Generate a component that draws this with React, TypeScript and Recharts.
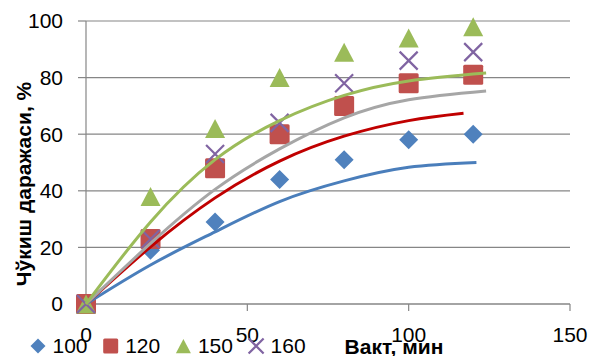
import React from 'react';
import {
  ComposedChart,
  Scatter,
  Line,
  XAxis,
  YAxis,
  CartesianGrid,
} from 'recharts';

// measured points (time, min → degree, %)
const times = [0, 20, 40, 60, 80, 100, 120];
const deg100 = [0, 19, 29, 44, 51, 58, 60];
const deg120 = [0, 23, 48, 60, 70, 78, 81];
const deg150 = [0, 38, 62, 80, 89, 94, 98];
const deg160 = [0, 23, 53, 64, 78, 86, 89];

// trend curves
const trendBlueX = [0, 20, 40, 60, 80, 100, 121];
const trendBlueY = [0, 13.8, 25.5, 36.2, 43.5, 48.3, 50];
const trendRedX = [0, 20, 40, 60, 80, 100, 117];
const trendRedY = [0, 20.2, 37.5, 50.5, 59.3, 64.8, 67.4];
const trendGrayX = [0, 20, 40, 60, 80, 100, 124];
const trendGrayY = [0, 21.4, 40.5, 54.8, 65.8, 72.2, 75.3];
const trendGreenX = [0, 20, 40, 60, 80, 100, 124];
const trendGreenY = [0, 29, 51, 64.8, 73.7, 78.8, 81.6];

const legendLabels = ['100', '120', '150', '160'];
const xTicks = [0, 50, 100, 150];
const yTicks = [0, 20, 40, 60, 80, 100];

const FONT = '"Liberation Sans", Arial, sans-serif';
const AXIS = '#868686';

const BLUE = '#4F81BD';
const RED = '#C0504D';
const GREEN = '#9BBB59';
const PURPLE = '#8064A2';

const zip = (xs: number[], ys: number[]) => xs.map((x, i) => ({ x, y: ys[i] }));

type MarkerProps = { cx?: number; cy?: number; s?: number };

function Diamond({ cx = 0, cy = 0, s = 19 }: MarkerProps) {
  const h = s / 2;
  return <path d={`M${cx},${cy - h}L${cx + h},${cy}L${cx},${cy + h}L${cx - h},${cy}Z`} fill={BLUE} />;
}

function Square({ cx = 0, cy = 0, s = 20 }: MarkerProps) {
  return <rect x={cx - s / 2} y={cy - s / 2} width={s} height={s} rx={1.5} fill={RED} />;
}

function Triangle({ cx = 0, cy = 0, s = 20 }: MarkerProps) {
  const h = s * 0.95;
  return (
    <path
      d={`M${cx},${cy - h / 2}L${cx + s / 2},${cy + h / 2}L${cx - s / 2},${cy + h / 2}Z`}
      fill={GREEN}
    />
  );
}

function Cross({ cx = 0, cy = 0, s = 18 }: MarkerProps) {
  const h = s / 2;
  return (
    <path
      d={`M${cx - h},${cy - h}L${cx + h},${cy + h}M${cx + h},${cy - h}L${cx - h},${cy + h}`}
      stroke={PURPLE}
      strokeWidth={2.2}
      fill="none"
    />
  );
}

const markers = [Diamond, Square, Triangle, Cross];

function Legend() {
  return (
    <svg
      width={590}
      height={356}
      style={{ position: 'absolute', left: 0, top: 0, pointerEvents: 'none' }}
    >
      {legendLabels.map((label, i) => {
        const x0 = 30.5 + i * 72.7;
        const M = markers[i];
        return (
          <g key={label}>
            <M cx={x0 + 7.5} cy={346} s={15} />
            <text x={x0 + 22} y={353} fontSize={21} fontFamily={FONT} fill="#000">
              {label}
            </text>
          </g>
        );
      })}
    </svg>
  );
}

export default function App() {
  return (
    <div style={{ position: 'absolute', left: 0, top: 0, width: 590, height: 356 }}>
      <ComposedChart width={590} height={356} margin={{ top: 21, right: 20, bottom: 0, left: 0 }}>
        <CartesianGrid vertical={false} stroke={AXIS} strokeWidth={1.2} />
        <XAxis
          dataKey="x"
          type="number"
          domain={[0, 150]}
          ticks={xTicks}
          height={52}
          stroke={AXIS}
          strokeWidth={1.2}
          tickSize={7}
          tickMargin={16}
          tick={{ fill: '#000', fontSize: 21, fontFamily: FONT }}
          label={{
            content: () => (
              <text
                x={394}
                y={354}
                textAnchor="middle"
                fontSize={21}
                fontWeight="bold"
                fontFamily={FONT}
                fill="#000"
              >
                Вакт, мин
              </text>
            ),
          }}
        />
        <YAxis
          type="number"
          domain={[0, 100]}
          ticks={yTicks}
          width={86}
          stroke={AXIS}
          strokeWidth={1.2}
          tickSize={8}
          tickMargin={15}
          tick={{ fill: '#000', fontSize: 21, fontFamily: FONT }}
          label={{
            content: () => (
              <text
                transform="translate(23,184) rotate(-90)"
                textAnchor="middle"
                dominantBaseline="central"
                fontSize={21}
                fontWeight="bold"
                fontFamily={FONT}
                fill="#000"
              >
                Чўкиш даражаси, %
              </text>
            ),
          }}
        />

        <Scatter data={zip(times, deg100)} dataKey="y" shape={(p: any) => <Diamond cx={p.cx} cy={p.cy} />} isAnimationActive={false} />
        <Scatter data={zip(times, deg120)} dataKey="y" shape={(p: any) => <Square cx={p.cx} cy={p.cy} />} isAnimationActive={false} />
        <Scatter data={zip(times, deg150)} dataKey="y" shape={(p: any) => <Triangle cx={p.cx} cy={p.cy} />} isAnimationActive={false} />
        <Scatter data={zip(times, deg160)} dataKey="y" shape={(p: any) => <Cross cx={p.cx} cy={p.cy} />} isAnimationActive={false} />

        <Line data={zip(trendBlueX, trendBlueY)} dataKey="y" type="natural" stroke="#4A7EBB" strokeWidth={3} dot={false} activeDot={false} zIndex={700} isAnimationActive={false} />
        <Line data={zip(trendRedX, trendRedY)} dataKey="y" type="natural" stroke="#C00000" strokeWidth={3} dot={false} activeDot={false} zIndex={700} isAnimationActive={false} />
        <Line data={zip(trendGrayX, trendGrayY)} dataKey="y" type="natural" stroke="#A6A6A6" strokeWidth={3} dot={false} activeDot={false} zIndex={700} isAnimationActive={false} />
        <Line data={zip(trendGreenX, trendGreenY)} dataKey="y" type="natural" stroke={GREEN} strokeWidth={3} dot={false} activeDot={false} zIndex={700} isAnimationActive={false} />
      </ComposedChart>
      <Legend />
    </div>
  );
}
